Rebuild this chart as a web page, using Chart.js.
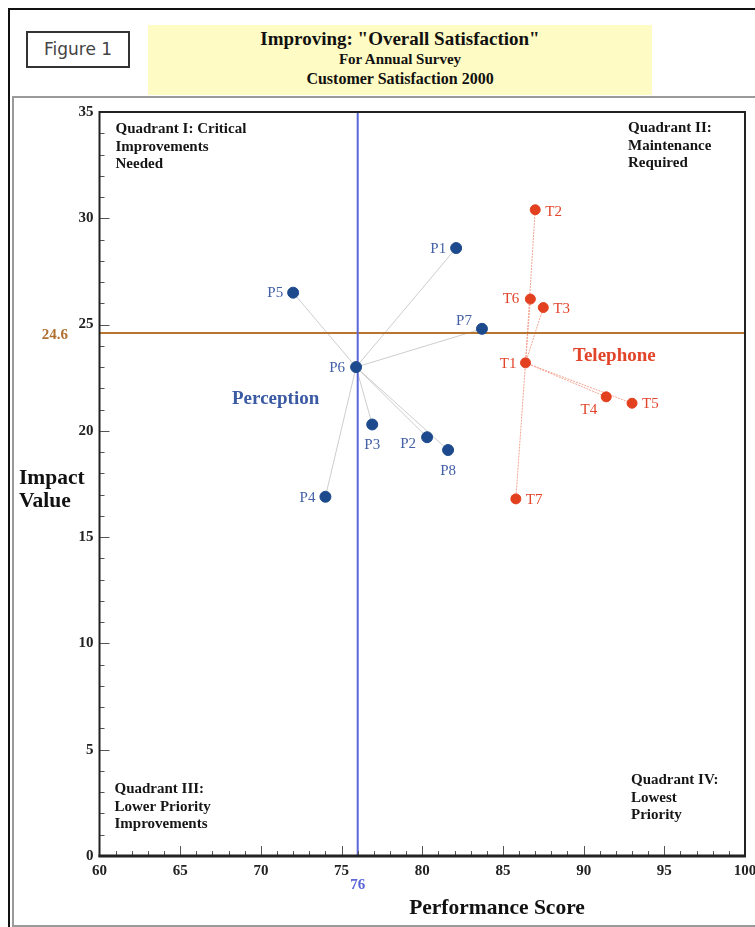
<!DOCTYPE html>
<html>
<head>
<meta charset="utf-8">
<script src="https://cdn.jsdelivr.net/npm/chart.js@4.4.0/dist/chart.umd.min.js"></script>
<style>
body{margin:0;width:755px;height:927px;position:relative;background:#fff;overflow:hidden;font-family:"Liberation Serif",serif}
.outer{position:absolute;left:8px;top:8px;width:800px;height:960px;border-top:2px solid #111;border-left:2px solid #111}
.inner{position:absolute;left:12px;top:96px;width:800px;height:827px;border-top:2px solid #9a9a9a;border-left:2px solid #9a9a9a;border-bottom:2px solid #9a9a9a}
.fig{position:absolute;left:26px;top:31px;width:100px;height:33px;border:2px solid #333;font-family:"DejaVu Sans",sans-serif;font-size:17px;color:#444;text-align:center;line-height:33px}
.title{position:absolute;left:148px;top:25px;width:504px;height:70px;background:#fffbc4;text-align:center;font-weight:bold;color:#111}
.title .t1{font-size:19px;margin-top:3px;line-height:22px}
.title .t2{font-size:15px;line-height:19px}
.title .t3{font-size:16px;line-height:20px}
canvas{position:absolute;left:0;top:0}
</style>
</head>
<body>
<div class="outer"></div>
<div class="inner"></div>
<div class="fig">Figure 1</div>
<div class="title">
  <div class="t1">Improving: "Overall Satisfaction"</div>
  <div class="t2">For Annual Survey</div>
  <div class="t3">Customer Satisfaction 2000</div>
</div>
<canvas id="quad" width="755" height="927"></canvas>
<script>
// data
const perceptionNames = ['P1', 'P2', 'P3', 'P4', 'P5', 'P6', 'P7', 'P8'];
const perceptionScore = [82.1, 80.3, 76.9, 74.0, 72.0, 75.9, 83.7, 81.6];
const perceptionImpact = [28.6, 19.7, 20.3, 16.9, 26.5, 23.0, 24.8, 19.1];
const perceptionHub = 'P6';

const telephoneNames = ['T1', 'T2', 'T3', 'T4', 'T5', 'T6', 'T7'];
const telephoneScore = [86.4, 87.0, 87.5, 91.4, 93.0, 86.7, 85.8];
const telephoneImpact = [23.2, 30.4, 25.8, 21.6, 21.3, 26.2, 16.8];
const telephoneHub = 'T1';

const avgScore = 76;
const avgImpact = 24.6;
const scoreRange = [60, 100];
const impactRange = [0, 35];

// label placement [dx, dy, align]
const labelOffset = {
    P1: [-10, 1, 'right'], P2: [-11, 7, 'right'], P3: [0, 21, 'center'], P4: [-10, 1, 'right'],
    P5: [-10, 0, 'right'], P6: [-11, 1, 'right'], P7: [-10, -8, 'right'], P8: [0, 21, 'center'],
    T1: [-9, 1, 'right'], T2: [10, 2, 'left'], T3: [10, 1, 'left'], T4: [-9, 13, 'right'],
    T5: [10, 1, 'left'], T6: [-11, 0, 'right'], T7: [10, 1, 'left']
};

const blueDot = '#1d4a8c';
const blueText = '#4461a6';
const redDot = '#e2401f';
const redText = '#e2442a';
const serif = '"Liberation Serif", "Times New Roman", serif';

function points(names, xs, ys) {
    return names.map((n, i) => ({ x: xs[i], y: ys[i], name: n }));
}

function spokes(pts, hub, color, dash) {
    const c = pts.find(p => p.name === hub);
    return pts.filter(p => p.name !== hub).map(p => ({
        type: 'scatter',
        data: [c, p],
        showLine: true,
        borderColor: color,
        borderWidth: 1,
        borderDash: dash,
        pointRadius: 0,
        order: 5
    }));
}

const pPts = points(perceptionNames, perceptionScore, perceptionImpact);
const tPts = points(telephoneNames, telephoneScore, telephoneImpact);

const datasets = [
    ...spokes(pPts, perceptionHub, '#cdcdcd', []),
    ...spokes(tPts, telephoneHub, '#f3a593', [2, 1]),
    {
        type: 'scatter', data: [{ x: avgScore, y: impactRange[0] }, { x: avgScore, y: impactRange[1] }],
        showLine: true, borderColor: '#5a66d8', borderWidth: 2, pointRadius: 0, order: 4
    },
    {
        type: 'scatter', data: [{ x: scoreRange[0], y: avgImpact }, { x: scoreRange[1], y: avgImpact }],
        showLine: true, borderColor: '#b87530', borderWidth: 2, pointRadius: 0, order: 4
    },
    {
        type: 'scatter', data: pPts, pointRadius: 5.5, backgroundColor: blueDot, borderColor: blueDot,
        pointLabels: true, labelColor: blueText, order: 1
    },
    {
        type: 'scatter', data: tPts, pointRadius: 5, backgroundColor: redDot, borderColor: redDot,
        pointLabels: true, labelColor: redText, order: 1
    }
];

const quadrantPlugin = {
    id: 'quadrantText',
    afterDatasetsDraw(chart) {
        const ctx = chart.ctx;
        const a = chart.chartArea;
        const xs = chart.scales.x;
        const ys = chart.scales.y;
        ctx.save();

        // inward tick marks
        ctx.strokeStyle = '#555';
        ctx.lineWidth = 1;
        for (let v = scoreRange[0] + 1; v < scoreRange[1]; v++) {
            const px = Math.round(xs.getPixelForValue(v)) + 0.5;
            const len = v % 5 === 0 ? 10 : 5;
            ctx.beginPath(); ctx.moveTo(px, a.bottom); ctx.lineTo(px, a.bottom - len); ctx.stroke();
        }
        for (let v = impactRange[0] + 1; v < impactRange[1]; v++) {
            const py = Math.round(ys.getPixelForValue(v)) + 0.5;
            const len = v % 5 === 0 ? 10 : 5;
            ctx.beginPath(); ctx.moveTo(a.left, py); ctx.lineTo(a.left + len, py); ctx.stroke();
        }

        // plot frame
        ctx.strokeStyle = '#222';
        ctx.lineWidth = 2;
        ctx.strokeRect(a.left, a.top, a.right - a.left, a.bottom - a.top);
        ctx.lineWidth = 3;
        ctx.beginPath(); ctx.moveTo(a.left - 1, a.bottom); ctx.lineTo(a.right + 1, a.bottom); ctx.stroke();

        // point labels
        ctx.font = `15px ${serif}`;
        ctx.textBaseline = 'middle';
        chart.data.datasets.forEach((ds, i) => {
            if (!ds.pointLabels) return;
            const meta = chart.getDatasetMeta(i);
            meta.data.forEach((el, j) => {
                const name = ds.data[j].name;
                const off = labelOffset[name];
                ctx.fillStyle = ds.labelColor;
                ctx.textAlign = off[2];
                ctx.fillText(name, el.x + off[0], el.y + off[1]);
            });
        });

        // group names
        ctx.font = `bold 19px ${serif}`;
        ctx.textAlign = 'left';
        ctx.fillStyle = '#3a5aa3';
        ctx.fillText('Perception', 232, 399);
        ctx.fillStyle = redText;
        ctx.fillText('Telephone', 573, 356);

        // quadrant notes
        ctx.font = `bold 15px ${serif}`;
        ctx.fillStyle = '#151515';
        const note = (lines, x, y) => lines.forEach((t, k) => ctx.fillText(t, x, y + k * 17.8));
        note(['Quadrant I: Critical', 'Improvements', 'Needed'], a.left + 16, a.top + 17);
        note(['Quadrant II:', 'Maintenance', 'Required'], 628, a.top + 16);
        note(['Quadrant III:', 'Lower Priority', 'Improvements'], a.left + 15, 789);
        note(['Quadrant IV:', 'Lowest', 'Priority'], 631, 780);

        // average markers
        ctx.font = `bold 15px ${serif}`;
        ctx.textAlign = 'right';
        ctx.fillStyle = '#b07030';
        ctx.fillText(String(avgImpact), 68, ys.getPixelForValue(avgImpact) + 2);
        ctx.textAlign = 'center';
        ctx.fillStyle = '#5a66d8';
        ctx.fillText(String(avgScore), xs.getPixelForValue(avgScore), 885);

        // axis titles
        ctx.font = `bold 21.5px ${serif}`;
        ctx.fillStyle = '#111';
        ctx.textAlign = 'left';
        ctx.fillText('Impact', 19, 478);
        ctx.fillText('Value', 19, 501);
        ctx.textAlign = 'center';
        ctx.fillText('Performance Score', 497, 908);
        ctx.restore();
    }
};

const tickFont = { family: serif, size: 15, weight: 'bold' };

new Chart(document.getElementById('quad'), {
    type: 'scatter',
    data: { datasets: datasets },
    options: {
        responsive: false,
        animation: false,
        layout: { padding: { left: 10, right: 10, top: 112, bottom: 0 } },
        plugins: { legend: { display: false }, tooltip: { enabled: false } },
        scales: {
            x: {
                type: 'linear', min: scoreRange[0], max: scoreRange[1],
                grid: { display: false, drawTicks: false },
                border: { display: false },
                ticks: {
                    stepSize: 1, autoSkip: false, maxRotation: 0, padding: 6,
                    font: tickFont, color: '#222',
                    callback: v => (v % 5 === 0 ? v : '')
                },
                afterFit: s => { s.height = 71; s.paddingLeft = 0; s.paddingRight = 0; }
            },
            y: {
                type: 'linear', min: impactRange[0], max: impactRange[1],
                grid: { display: false, drawTicks: false },
                border: { display: false },
                ticks: {
                    stepSize: 1, autoSkip: false, padding: 6,
                    font: tickFont, color: '#222',
                    callback: v => (v % 5 === 0 ? v : '')
                },
                afterFit: s => { s.width = 89.5; s.paddingTop = 0; s.paddingBottom = 0; }
            }
        }
    },
    plugins: [quadrantPlugin]
});
</script>
</body>
</html>
